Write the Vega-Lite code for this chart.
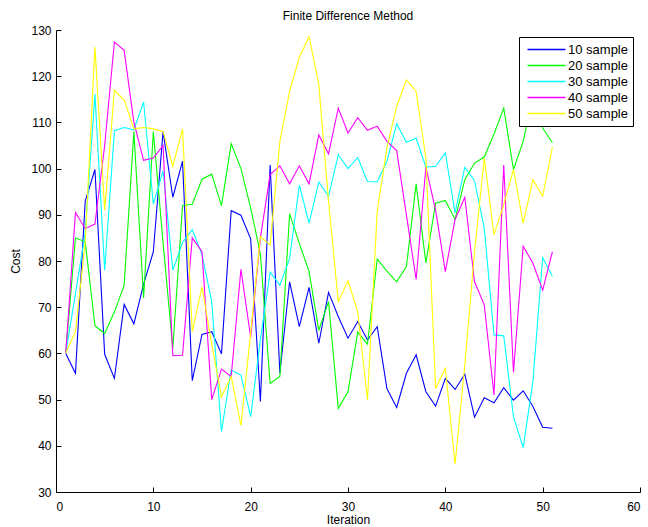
{
  "$schema": "https://vega.github.io/schema/vega-lite/v6.json",
  "autosize": {"type": "none"},
  "width": 584,
  "height": 462,
  "padding": {"left": 56, "top": 30, "right": 8, "bottom": 35},
  "background": "white",
  "title": {"text": "Finite Difference Method", "fontSize": 12, "fontWeight": "normal", "font": "Liberation Sans", "color": "black", "offset": 1, "anchor": "middle"},
  "config": {
    "view": {"stroke": null},
    "font": "Liberation Sans",
    "axis": {"grid": false, "domainColor": "black", "tickColor": "black", "labelColor": "black", "titleColor": "black", "labelFont": "Liberation Sans", "titleFont": "Liberation Sans", "labelFontSize": 12, "titleFontSize": 12, "titleFontWeight": "normal", "tickSize": -5, "domainWidth": 1, "tickWidth": 1}
  },
  "datasets": {
    "pts": [
{"s":"10 sample","i":1,"c":60},{"s":"10 sample","i":2,"c":55.7},{"s":"10 sample","i":3,"c":92.9},{"s":"10 sample","i":4,"c":99.8},{"s":"10 sample","i":5,"c":59.8},{"s":"10 sample","i":6,"c":54.6},{"s":"10 sample","i":7,"c":70.6},{"s":"10 sample","i":8,"c":66.4},{"s":"10 sample","i":9,"c":75},{"s":"10 sample","i":10,"c":82},{"s":"10 sample","i":11,"c":108},{"s":"10 sample","i":12,"c":93.8},{"s":"10 sample","i":13,"c":101.6},{"s":"10 sample","i":14,"c":54.1},{"s":"10 sample","i":15,"c":64.1},{"s":"10 sample","i":16,"c":64.7},{"s":"10 sample","i":17,"c":59.9},{"s":"10 sample","i":18,"c":90.9},{"s":"10 sample","i":19,"c":89.9},{"s":"10 sample","i":20,"c":84.8},{"s":"10 sample","i":21,"c":49.6},{"s":"10 sample","i":22,"c":100.8},{"s":"10 sample","i":23,"c":55.7},{"s":"10 sample","i":24,"c":75.5},{"s":"10 sample","i":25,"c":65.8},{"s":"10 sample","i":26,"c":74.3},{"s":"10 sample","i":27,"c":62.2},{"s":"10 sample","i":28,"c":73.2},{"s":"10 sample","i":29,"c":68},{"s":"10 sample","i":30,"c":63.3},{"s":"10 sample","i":31,"c":66.9},{"s":"10 sample","i":32,"c":62.9},{"s":"10 sample","i":33,"c":65.8},{"s":"10 sample","i":34,"c":52.4},{"s":"10 sample","i":35,"c":48.3},{"s":"10 sample","i":36,"c":55.7},{"s":"10 sample","i":37,"c":59.7},{"s":"10 sample","i":38,"c":51.7},{"s":"10 sample","i":39,"c":48.6},{"s":"10 sample","i":40,"c":54.6},{"s":"10 sample","i":41,"c":52.2},{"s":"10 sample","i":42,"c":55.5},{"s":"10 sample","i":43,"c":46.2},{"s":"10 sample","i":44,"c":50.4},{"s":"10 sample","i":45,"c":49.3},{"s":"10 sample","i":46,"c":52.6},{"s":"10 sample","i":47,"c":49.9},{"s":"10 sample","i":48,"c":51.9},{"s":"10 sample","i":49,"c":48.5},{"s":"10 sample","i":50,"c":44},{"s":"10 sample","i":51,"c":43.8},
{"s":"20 sample","i":1,"c":60},{"s":"20 sample","i":2,"c":85},{"s":"20 sample","i":3,"c":84.2},{"s":"20 sample","i":4,"c":66},{"s":"20 sample","i":5,"c":64.3},{"s":"20 sample","i":6,"c":69},{"s":"20 sample","i":7,"c":74.7},{"s":"20 sample","i":8,"c":108},{"s":"20 sample","i":9,"c":72},{"s":"20 sample","i":10,"c":108},{"s":"20 sample","i":11,"c":84},{"s":"20 sample","i":12,"c":61},{"s":"20 sample","i":13,"c":92},{"s":"20 sample","i":14,"c":92.3},{"s":"20 sample","i":15,"c":97.7},{"s":"20 sample","i":16,"c":98.8},{"s":"20 sample","i":17,"c":92},{"s":"20 sample","i":18,"c":105.4},{"s":"20 sample","i":19,"c":100},{"s":"20 sample","i":20,"c":91.5},{"s":"20 sample","i":21,"c":81.5},{"s":"20 sample","i":22,"c":53.5},{"s":"20 sample","i":23,"c":55},{"s":"20 sample","i":24,"c":90.2},{"s":"20 sample","i":25,"c":83.8},{"s":"20 sample","i":26,"c":77.7},{"s":"20 sample","i":27,"c":65},{"s":"20 sample","i":28,"c":71.2},{"s":"20 sample","i":29,"c":48.1},{"s":"20 sample","i":30,"c":51.7},{"s":"20 sample","i":31,"c":64.6},{"s":"20 sample","i":32,"c":62},{"s":"20 sample","i":33,"c":80.4},{"s":"20 sample","i":34,"c":77.8},{"s":"20 sample","i":35,"c":75.5},{"s":"20 sample","i":36,"c":78.8},{"s":"20 sample","i":37,"c":96.7},{"s":"20 sample","i":38,"c":79.6},{"s":"20 sample","i":39,"c":92.5},{"s":"20 sample","i":40,"c":93.1},{"s":"20 sample","i":41,"c":89},{"s":"20 sample","i":42,"c":97.6},{"s":"20 sample","i":43,"c":101.2},{"s":"20 sample","i":44,"c":102.5},{"s":"20 sample","i":45,"c":107.5},{"s":"20 sample","i":46,"c":113.1},{"s":"20 sample","i":47,"c":99.8},{"s":"20 sample","i":48,"c":105.9},{"s":"20 sample","i":49,"c":115.6},{"s":"20 sample","i":50,"c":108.8},{"s":"20 sample","i":51,"c":105.6},
{"s":"30 sample","i":1,"c":60},{"s":"30 sample","i":2,"c":73},{"s":"30 sample","i":3,"c":86},{"s":"30 sample","i":4,"c":116.1},{"s":"30 sample","i":5,"c":78},{"s":"30 sample","i":6,"c":108.2},{"s":"30 sample","i":7,"c":108.9},{"s":"30 sample","i":8,"c":108.4},{"s":"30 sample","i":9,"c":114.4},{"s":"30 sample","i":10,"c":92.3},{"s":"30 sample","i":11,"c":99.5},{"s":"30 sample","i":12,"c":78},{"s":"30 sample","i":13,"c":84},{"s":"30 sample","i":14,"c":86.8},{"s":"30 sample","i":15,"c":81.4},{"s":"30 sample","i":16,"c":71.2},{"s":"30 sample","i":17,"c":43.1},{"s":"30 sample","i":18,"c":56.4},{"s":"30 sample","i":19,"c":55.3},{"s":"30 sample","i":20,"c":46.3},{"s":"30 sample","i":21,"c":63},{"s":"30 sample","i":22,"c":77.6},{"s":"30 sample","i":23,"c":74.8},{"s":"30 sample","i":24,"c":80.5},{"s":"30 sample","i":25,"c":96.4},{"s":"30 sample","i":26,"c":88.2},{"s":"30 sample","i":27,"c":97.1},{"s":"30 sample","i":28,"c":94},{"s":"30 sample","i":29,"c":103},{"s":"30 sample","i":30,"c":100},{"s":"30 sample","i":31,"c":102.4},{"s":"30 sample","i":32,"c":97.2},{"s":"30 sample","i":33,"c":97.1},{"s":"30 sample","i":34,"c":101.6},{"s":"30 sample","i":35,"c":109.7},{"s":"30 sample","i":36,"c":105.7},{"s":"30 sample","i":37,"c":106.6},{"s":"30 sample","i":38,"c":100.3},{"s":"30 sample","i":39,"c":100.5},{"s":"30 sample","i":40,"c":103.4},{"s":"30 sample","i":41,"c":90.4},{"s":"30 sample","i":42,"c":100.3},{"s":"30 sample","i":43,"c":97.4},{"s":"30 sample","i":44,"c":87.1},{"s":"30 sample","i":45,"c":64},{"s":"30 sample","i":46,"c":63.8},{"s":"30 sample","i":47,"c":46.3},{"s":"30 sample","i":48,"c":39.6},{"s":"30 sample","i":49,"c":54},{"s":"30 sample","i":50,"c":80.7},{"s":"30 sample","i":51,"c":76.7},
{"s":"40 sample","i":1,"c":60},{"s":"40 sample","i":2,"c":90.5},{"s":"40 sample","i":3,"c":87},{"s":"40 sample","i":4,"c":88},{"s":"40 sample","i":5,"c":105},{"s":"40 sample","i":6,"c":127.4},{"s":"40 sample","i":7,"c":125.6},{"s":"40 sample","i":8,"c":110},{"s":"40 sample","i":9,"c":101.8},{"s":"40 sample","i":10,"c":102.3},{"s":"40 sample","i":11,"c":105},{"s":"40 sample","i":12,"c":59.5},{"s":"40 sample","i":13,"c":59.6},{"s":"40 sample","i":14,"c":85},{"s":"40 sample","i":15,"c":82},{"s":"40 sample","i":16,"c":50},{"s":"40 sample","i":17,"c":56.6},{"s":"40 sample","i":18,"c":55},{"s":"40 sample","i":19,"c":78.2},{"s":"40 sample","i":20,"c":63.5},{"s":"40 sample","i":21,"c":85},{"s":"40 sample","i":22,"c":98.7},{"s":"40 sample","i":23,"c":100.6},{"s":"40 sample","i":24,"c":96.7},{"s":"40 sample","i":25,"c":100.6},{"s":"40 sample","i":26,"c":96.7},{"s":"40 sample","i":27,"c":107.3},{"s":"40 sample","i":28,"c":103.2},{"s":"40 sample","i":29,"c":113.1},{"s":"40 sample","i":30,"c":107.7},{"s":"40 sample","i":31,"c":111},{"s":"40 sample","i":32,"c":108.3},{"s":"40 sample","i":33,"c":109.2},{"s":"40 sample","i":34,"c":105.9},{"s":"40 sample","i":35,"c":103.9},{"s":"40 sample","i":36,"c":90},{"s":"40 sample","i":37,"c":76},{"s":"40 sample","i":38,"c":100.3},{"s":"40 sample","i":39,"c":91},{"s":"40 sample","i":40,"c":77.7},{"s":"40 sample","i":41,"c":89},{"s":"40 sample","i":42,"c":93.8},{"s":"40 sample","i":43,"c":75.5},{"s":"40 sample","i":44,"c":70.5},{"s":"40 sample","i":45,"c":51},{"s":"40 sample","i":46,"c":100.8},{"s":"40 sample","i":47,"c":55.9},{"s":"40 sample","i":48,"c":83.2},{"s":"40 sample","i":49,"c":79.5},{"s":"40 sample","i":50,"c":73.7},{"s":"40 sample","i":51,"c":82},
{"s":"50 sample","i":1,"c":60},{"s":"50 sample","i":2,"c":64.7},{"s":"50 sample","i":3,"c":84},{"s":"50 sample","i":4,"c":126.3},{"s":"50 sample","i":5,"c":91},{"s":"50 sample","i":6,"c":116.9},{"s":"50 sample","i":7,"c":114.9},{"s":"50 sample","i":8,"c":108.6},{"s":"50 sample","i":9,"c":108.9},{"s":"50 sample","i":10,"c":108.6},{"s":"50 sample","i":11,"c":108},{"s":"50 sample","i":12,"c":100.5},{"s":"50 sample","i":13,"c":108.6},{"s":"50 sample","i":14,"c":64.7},{"s":"50 sample","i":15,"c":74.4},{"s":"50 sample","i":16,"c":62},{"s":"50 sample","i":17,"c":50.6},{"s":"50 sample","i":18,"c":55},{"s":"50 sample","i":19,"c":44.4},{"s":"50 sample","i":20,"c":64.5},{"s":"50 sample","i":21,"c":85.3},{"s":"50 sample","i":22,"c":83.5},{"s":"50 sample","i":23,"c":105.9},{"s":"50 sample","i":24,"c":116.7},{"s":"50 sample","i":25,"c":124.1},{"s":"50 sample","i":26,"c":128.6},{"s":"50 sample","i":27,"c":118.2},{"s":"50 sample","i":28,"c":93},{"s":"50 sample","i":29,"c":71.2},{"s":"50 sample","i":30,"c":75.7},{"s":"50 sample","i":31,"c":69},{"s":"50 sample","i":32,"c":49.9},{"s":"50 sample","i":33,"c":90.8},{"s":"50 sample","i":34,"c":104.5},{"s":"50 sample","i":35,"c":113.5},{"s":"50 sample","i":36,"c":119.2},{"s":"50 sample","i":37,"c":116.7},{"s":"50 sample","i":38,"c":102.3},{"s":"50 sample","i":39,"c":52.4},{"s":"50 sample","i":40,"c":56.8},{"s":"50 sample","i":41,"c":36},{"s":"50 sample","i":42,"c":57.5},{"s":"50 sample","i":43,"c":82},{"s":"50 sample","i":44,"c":102.3},{"s":"50 sample","i":45,"c":85.7},{"s":"50 sample","i":46,"c":92.2},{"s":"50 sample","i":47,"c":99.8},{"s":"50 sample","i":48,"c":88.2},{"s":"50 sample","i":49,"c":97.6},{"s":"50 sample","i":50,"c":94},{"s":"50 sample","i":51,"c":104.6}
    ]
  },
  "data": {"name": "pts"},
  "mark": {"type": "line", "strokeWidth": 1.1, "interpolate": "linear"},
  "encoding": {
    "x": {"field": "i", "type": "quantitative", "scale": {"domain": [0, 60], "nice": false, "zero": false}, "axis": {"values": [0,10,20,30,40,50,60], "title": "Iteration", "labelPadding": 14, "titlePadding": 2}},
    "y": {"field": "c", "type": "quantitative", "scale": {"domain": [30, 130], "nice": false, "zero": false}, "axis": {"values": [30,40,50,60,70,80,90,100,110,120,130], "title": "Cost", "labelPadding": 10, "titlePadding": 8}},
    "color": {"field": "s", "type": "nominal", "scale": {"domain": ["10 sample","20 sample","30 sample","40 sample","50 sample"], "range": ["#0000ff","#00ff00","#00ffff","#ff00ff","#ffff00"]},
      "legend": {"title": null, "orient": "none", "legendX": 463, "legendY": 7, "strokeColor": "black", "fillColor": "white", "padding": 5, "symbolType": "M-3,0H3", "symbolSize": 160, "symbolStrokeWidth": 1.5, "symbolOffset": 15, "labelFontSize": 13, "labelFont": "Liberation Sans", "labelColor": "black", "rowPadding": 1, "labelOffset": 14}
    },
    "order": {"field": "i", "type": "quantitative"}
  }
}
